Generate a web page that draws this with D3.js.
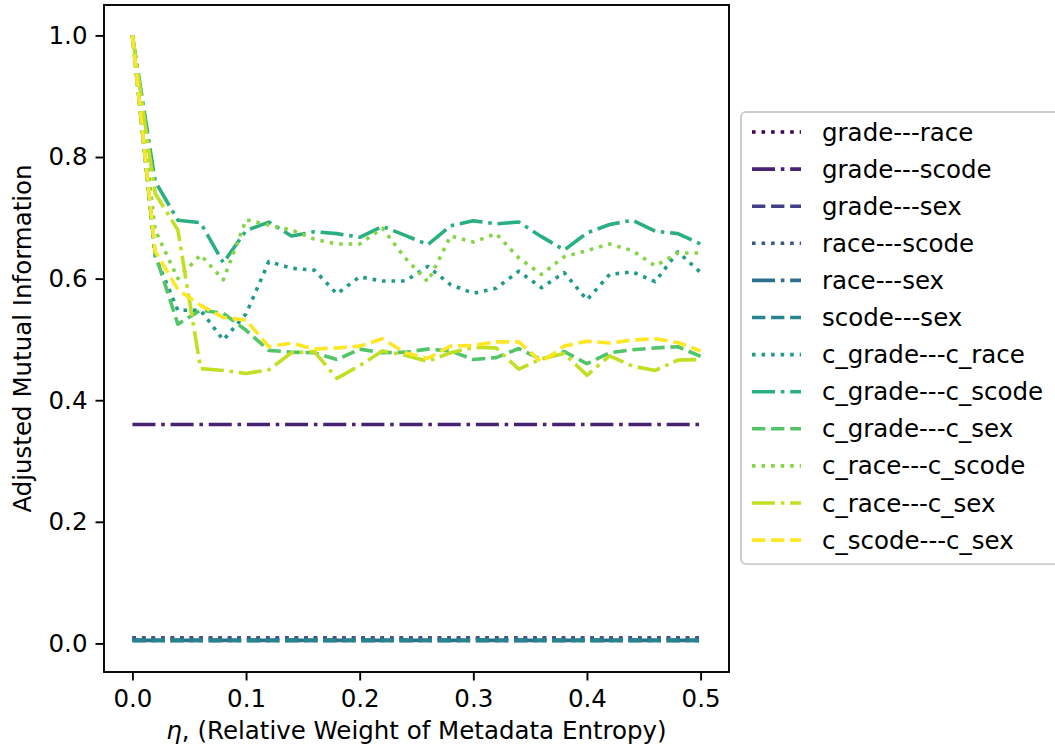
<!DOCTYPE html>
<html>
<head>
<meta charset="utf-8">
<script src="https://cdn.jsdelivr.net/npm/d3@7/dist/d3.min.js"></script>
<style>
  html, body { margin: 0; padding: 0; background: #fff; }
  svg { display: block; font-family: "DejaVu Sans", sans-serif; }
</style>
</head>
<body>
<svg id="chart" width="1055" height="751"></svg>
<script>
// eta values (relative weight of metadata entropy)
const eta = [0.00, 0.02, 0.04, 0.06, 0.08, 0.10, 0.12, 0.14, 0.16, 0.18, 0.20, 0.22, 0.24,
             0.26, 0.28, 0.30, 0.32, 0.34, 0.36, 0.38, 0.40, 0.42, 0.44, 0.46, 0.48, 0.50];

const seriesNames = ["grade---race", "grade---scode", "grade---sex", "race---scode", "race---sex",
  "scode---sex", "c_grade---c_race", "c_grade---c_scode", "c_grade---c_sex",
  "c_race---c_scode", "c_race---c_sex", "c_scode---c_sex"];

// adjusted mutual information per pair
const gradeRace   = [0.009, 0.009, 0.009, 0.009, 0.009, 0.009, 0.009, 0.009, 0.009, 0.009, 0.009, 0.009, 0.009,
                     0.009, 0.009, 0.009, 0.009, 0.009, 0.009, 0.009, 0.009, 0.009, 0.009, 0.009, 0.009, 0.009];
const gradeScode  = [0.360, 0.360, 0.360, 0.360, 0.360, 0.360, 0.360, 0.360, 0.360, 0.360, 0.360, 0.360, 0.360,
                     0.360, 0.360, 0.360, 0.360, 0.360, 0.360, 0.360, 0.360, 0.360, 0.360, 0.360, 0.360, 0.360];
const gradeSex    = [0.005, 0.005, 0.005, 0.005, 0.005, 0.005, 0.005, 0.005, 0.005, 0.005, 0.005, 0.005, 0.005,
                     0.005, 0.005, 0.005, 0.005, 0.005, 0.005, 0.005, 0.005, 0.005, 0.005, 0.005, 0.005, 0.005];
const raceScode   = [0.009, 0.009, 0.009, 0.009, 0.009, 0.009, 0.009, 0.009, 0.009, 0.009, 0.009, 0.009, 0.009,
                     0.009, 0.009, 0.009, 0.009, 0.009, 0.009, 0.009, 0.009, 0.009, 0.009, 0.009, 0.009, 0.009];
const raceSex     = [0.005, 0.005, 0.005, 0.005, 0.005, 0.005, 0.005, 0.005, 0.005, 0.005, 0.005, 0.005, 0.005,
                     0.005, 0.005, 0.005, 0.005, 0.005, 0.005, 0.005, 0.005, 0.005, 0.005, 0.005, 0.005, 0.005];
const scodeSex    = [0.005, 0.005, 0.005, 0.005, 0.005, 0.005, 0.005, 0.005, 0.005, 0.005, 0.005, 0.005, 0.005,
                     0.005, 0.005, 0.005, 0.005, 0.005, 0.005, 0.005, 0.005, 0.005, 0.005, 0.005, 0.005, 0.005];
const cGradeCRace = [1.000, 0.637, 0.548, 0.548, 0.499, 0.542, 0.628, 0.617, 0.614, 0.575, 0.603, 0.596, 0.596,
                     0.620, 0.590, 0.576, 0.584, 0.612, 0.585, 0.610, 0.565, 0.607, 0.611, 0.595, 0.644, 0.610];
const cGradeCScode= [1.000, 0.760, 0.696, 0.692, 0.626, 0.679, 0.693, 0.670, 0.677, 0.674, 0.668, 0.686, 0.671,
                     0.656, 0.687, 0.695, 0.690, 0.693, 0.669, 0.647, 0.675, 0.689, 0.696, 0.678, 0.674, 0.657];
const cGradeCSex  = [1.000, 0.641, 0.525, 0.548, 0.543, 0.515, 0.482, 0.479, 0.478, 0.467, 0.484, 0.478, 0.479,
                     0.484, 0.481, 0.467, 0.470, 0.485, 0.467, 0.480, 0.460, 0.478, 0.483, 0.486, 0.488, 0.472];
const cRaceCScode = [1.000, 0.680, 0.600, 0.639, 0.598, 0.697, 0.688, 0.680, 0.665, 0.657, 0.657, 0.683, 0.634,
                     0.595, 0.670, 0.660, 0.674, 0.634, 0.607, 0.636, 0.646, 0.657, 0.646, 0.621, 0.642, 0.642];
const cRaceCSex   = [1.000, 0.740, 0.680, 0.452, 0.449, 0.444, 0.450, 0.478, 0.480, 0.436, 0.457, 0.481, 0.474,
                     0.464, 0.478, 0.487, 0.486, 0.451, 0.468, 0.477, 0.441, 0.473, 0.456, 0.449, 0.466, 0.467];
const cScodeCSex  = [1.000, 0.645, 0.582, 0.556, 0.536, 0.532, 0.488, 0.494, 0.484, 0.486, 0.489, 0.501, 0.478,
                     0.469, 0.489, 0.490, 0.496, 0.496, 0.463, 0.489, 0.497, 0.494, 0.499, 0.501, 0.495, 0.481];

const seriesValues = [gradeRace, gradeScode, gradeSex, raceScode, raceSex, scodeSex,
  cGradeCRace, cGradeCScode, cGradeCSex, cRaceCScode, cRaceCSex, cScodeCSex];

const xTicks = [0.0, 0.1, 0.2, 0.3, 0.4, 0.5];
const yTicks = [0.0, 0.2, 0.4, 0.6, 0.8, 1.0];

// ---- layout ----
const fs = 24.5;          // base font size
const lw = 3.6;           // line width
const plot = { left: 104, right: 729, top: 5, bottom: 672 };

const svg = d3.select("#chart");

const x = d3.scaleLinear().domain([-0.025, 0.525]).range([plot.left, plot.right]);
const y = d3.scaleLinear().domain([-0.047, 1.05]).range([plot.bottom, plot.top]);

// line styles cycle: dotted, dash-dot, dashed (scaled with line width)
const styles = [
  [1 * lw, 1.65 * lw],
  [6.4 * lw, 1.6 * lw, 1 * lw, 1.6 * lw],
  [3.7 * lw, 1.6 * lw]
];
const color = i => d3.interpolateViridis(i / (seriesNames.length - 1));

svg.append("defs").append("clipPath").attr("id", "plotclip")
  .append("rect")
  .attr("x", plot.left).attr("y", plot.top)
  .attr("width", plot.right - plot.left).attr("height", plot.bottom - plot.top);

const line = d3.line()
  .x((d, i) => x(eta[i]))
  .y(d => y(d));

const lines = svg.append("g").attr("clip-path", "url(#plotclip)");
seriesValues.forEach((vals, i) => {
  lines.append("path")
    .datum(vals)
    .attr("d", line)
    .attr("fill", "none")
    .attr("stroke", color(i))
    .attr("stroke-width", lw)
    .attr("stroke-dasharray", styles[i % 3].join(" "))
    .attr("stroke-linecap", "butt")
    .attr("stroke-linejoin", "round");
});

// ---- axes ----
const xAxis = d3.axisBottom(x).tickValues(xTicks).tickFormat(d3.format(".1f"))
  .tickSizeInner(8.5).tickSizeOuter(0).tickPadding(8);
const yAxis = d3.axisLeft(y).tickValues(yTicks).tickFormat(d3.format(".1f"))
  .tickSizeInner(8.5).tickSizeOuter(0).tickPadding(8);

const gx = svg.append("g").attr("transform", `translate(0,${plot.bottom})`).call(xAxis);
const gy = svg.append("g").attr("transform", `translate(${plot.left},0)`).call(yAxis);

[gx, gy].forEach(g => {
  g.select(".domain").remove();
  g.selectAll(".tick line").attr("stroke", "#000").attr("stroke-width", 1.9);
  g.selectAll(".tick text").attr("fill", "#000")
    .style("font-family", "DejaVu Sans, sans-serif").style("font-size", fs + "px");
});
gx.selectAll(".tick text").attr("dy", "0.76em");

// frame
svg.append("rect")
  .attr("x", plot.left).attr("y", plot.top)
  .attr("width", plot.right - plot.left).attr("height", plot.bottom - plot.top)
  .attr("fill", "none").attr("stroke", "#000").attr("stroke-width", 1.9);

// axis labels
const xl = svg.append("text")
  .attr("x", (plot.left + plot.right) / 2).attr("y", 739)
  .attr("text-anchor", "middle").style("font-size", fs + "px");
xl.append("tspan").attr("font-style", "italic").text("η");
xl.append("tspan").text(", (Relative Weight of Metadata Entropy)");

svg.append("text")
  .attr("transform", `translate(31,${(plot.top + plot.bottom) / 2}) rotate(-90)`)
  .attr("text-anchor", "middle")
  .style("font-size", fs + "px")
  .text("Adjusted Mutual Information");

// ---- legend ----
const leg = { x: 741, y: 112, rowStart: 132, rowStep: 37.1 };
const lg = svg.append("g");
lg.append("rect")
  .attr("x", leg.x).attr("y", leg.y)
  .attr("width", 340)
  .attr("height", leg.rowStart - leg.y + leg.rowStep * (seriesNames.length - 1) + 24)
  .attr("rx", 5).attr("ry", 5)
  .attr("fill", "#fff").attr("fill-opacity", 0.8)
  .attr("stroke", "#cccccc").attr("stroke-width", 1.9);

seriesNames.forEach((name, i) => {
  const cy = leg.rowStart + i * leg.rowStep;
  lg.append("line")
    .attr("x1", 752).attr("x2", 801).attr("y1", cy).attr("y2", cy)
    .attr("stroke", color(i)).attr("stroke-width", lw)
    .attr("stroke-dasharray", styles[i % 3].join(" "));
  lg.append("text")
    .attr("x", 822).attr("y", cy)
    .attr("dominant-baseline", "central")
    .style("font-size", fs + "px")
    .text(name);
});
</script>
</body>
</html>
